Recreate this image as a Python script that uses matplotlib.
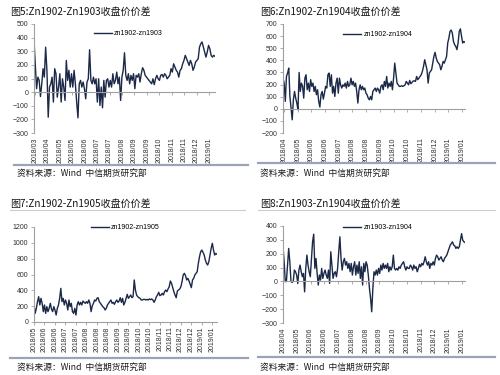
import matplotlib
matplotlib.use("Agg")
import matplotlib.pyplot as plt
import numpy as np
from matplotlib.lines import Line2D

plt.rcParams["font.family"] = ["Liberation Sans", "Noto Sans CJK SC", "DejaVu Sans"]

# ---- data ----
p1_title = "图5:Zn1902-Zn1903收盘价价差"
p1_label = "zn1902-zn1903"
p1_ticks = ["2018/03", "2018/04", "2018/05", "2018/05", "2018/06", "2018/07", "2018/07",
            "2018/08", "2018/09", "2018/09", "2018/10", "2018/11", "2018/11", "2018/12", "2019/01"]
p1_values = [380, 208, 25, 110, 86, -32, 61, 172, 110, 330, 160, -184, 37, 61, 110, -73,
             172, 135, -37, 37, 135, -73, 98, 37, -61, 233, 86, 160, 37, 135, 37, 160,
             61, -73, -189, 61, 86, 37, 74, 25, -49, 74, 98, 311, 86, 61, 110, 61, 98,
             -73, 98, -98, 37, -115, 86, -37, 86, 98, 37, 86, 37, 135, 61, 86, 147, 61,
             110, -61, 110, 160, 289, 123, 86, 135, 61, 123, 86, 135, 25, 123, 110, 135,
             74, 135, 179, 160, 123, 110, 98, 86, 74, 61, 98, 55, 98, 123, 98, 86, 123,
             130, 110, 135, 123, 98, 110, 123, 172, 147, 208, 184, 160, 147, 110, 160,
             172, 208, 233, 270, 245, 221, 196, 233, 208, 160, 184, 221, 233, 245, 330,
             355, 368, 330, 294, 257, 294, 343, 319, 270, 257, 270, 262]

p2_title = "图6:Zn1902-Zn1904收盘价价差"
p2_label = "zn1902-zn1904"
p2_ticks = ["2018/04", "2018/05", "2018/06", "2018/06", "2018/07", "2018/08", "2018/08",
            "2018/09", "2018/10", "2018/10", "2018/11", "2018/12", "2019/01", "2019/01"]
p2_values = [253, 212, 61, 267, 295, 336, 102, 6, -91, 74, 143, 88, 47, -8, 300, 143,
             212, 185, 88, 253, 281, 157, 212, 143, 240, 185, 212, 143, 185, 116, 157,
             61, 14, 116, 143, 80, 129, 185, 171, 281, 295, 185, 281, 129, 185, 102, 212,
             253, 129, 253, 198, 171, 198, 185, 212, 171, 226, 185, 198, 253, 198, 226,
             185, 212, 143, 47, 157, 198, 157, 185, 157, 171, 129, 116, 88, 74, 102, 74,
             143, 157, 171, 143, 171, 157, 129, 185, 198, 157, 226, 185, 267, 171, 212,
             185, 226, 157, 253, 377, 295, 212, 198, 185, 185, 190, 185, 190, 198, 226,
             212, 198, 234, 207, 218, 229, 231, 226, 267, 240, 253, 267, 281, 309, 350,
             405, 364, 322, 212, 295, 309, 322, 377, 432, 466, 419, 391, 377, 364, 322,
             350, 391, 377, 405, 432, 543, 584, 639, 650, 625, 556, 529, 515, 488, 543,
             639, 660, 598, 543, 556, 548]

p3_title = "图7:Zn1902-Zn1905收盘价价差"
p3_label = "zn1902-zn1905"
p3_ticks = ["2018/05", "2018/06", "2018/06", "2018/07", "2018/07", "2018/08", "2018/08",
            "2018/08", "2018/09", "2018/09", "2018/10", "2018/10", "2018/11", "2018/11",
            "2018/12", "2018/12", "2019/01", "2019/01"]
p3_values = [215, 109, 173, 257, 320, 215, 299, 236, 131, 215, 109, 194, 131, 173, 236,
             164, 131, 194, 152, 88, 173, 215, 299, 425, 257, 299, 215, 278, 236, 152,
             278, 194, 236, 131, 109, 173, 88, 215, 257, 215, 248, 215, 265, 248, 236,
             257, 236, 278, 236, 131, 206, 236, 278, 265, 299, 307, 257, 236, 215, 194,
             181, 152, 173, 215, 236, 257, 278, 236, 248, 223, 257, 278, 248, 265, 307,
             248, 299, 215, 248, 299, 349, 299, 320, 341, 307, 320, 531, 404, 341, 320,
             307, 299, 278, 278, 286, 286, 278, 286, 278, 291, 282, 291, 278, 248, 278,
             320, 341, 375, 333, 341, 362, 341, 383, 404, 383, 417, 446, 518, 488, 434,
             383, 341, 307, 392, 404, 417, 446, 509, 594, 615, 585, 531, 552, 518, 476,
             434, 531, 552, 594, 615, 636, 741, 825, 888, 909, 880, 846, 783, 741, 720,
             762, 846, 931, 994, 909, 846, 867, 855]

p4_title = "图8:Zn1903-Zn1904收盘价价差"
p4_label = "zn1903-zn1904"
p4_ticks = ["2018/04", "2018/05", "2018/06", "2018/06", "2018/07", "2018/08", "2018/08",
            "2018/09", "2018/10", "2018/10", "2018/11", "2018/12", "2019/01", "2019/01"]
p4_values = [250, 142, -2, 0, 118, 238, 142, 0, -7, 0, 82, 70, 46, -14, 82, 118, 70, 34,
             58, -75, 94, 190, 118, 70, 34, 166, 286, 341, 94, 166, 58, -26, 46, 10, 94,
             22, 58, 82, 46, 22, 82, -14, 214, 118, 22, 58, 70, 34, 94, 214, 322, 166, 82,
             142, 166, 118, 142, 94, 130, 70, 130, 46, 106, 142, 46, 118, 58, 142, 22,
             106, -26, 130, 70, 142, 118, 46, -50, -123, -219, -50, 70, 46, 82, 46, 94,
             58, 118, 82, 130, 94, 118, 94, 130, 70, 106, 82, 106, 190, 94, 82, 94, 82,
             106, 94, 118, 130, 142, 106, 82, 106, 94, 94, 118, 106, 82, 118, 94, 106, 70,
             94, 123, 106, 130, 118, 142, 178, 142, 118, 142, 94, 130, 118, 142, 118, 166,
             190, 178, 154, 166, 178, 154, 142, 166, 178, 190, 214, 238, 262, 274, 286,
             262, 257, 238, 250, 238, 250, 298, 345, 298, 286, 281]

LINE = "#1b2848"
AXIS = "#a0a0a0"
TXT = "#303030"
SEP = "#9aa4b8"

W, H = 500, 375
fig = plt.figure(figsize=(W / 100, H / 100), dpi=100)


def fx(px):
    return px / W


def fy(py):
    return 1 - py / H


def panel(box, values, ticks, tick_span, ylim, ystep, label, leg_xy):
    left, right, top, bottom = box
    ax = fig.add_axes([fx(left), fy(bottom), fx(right) - fx(left), fy(top) - fy(bottom)])
    x = np.arange(len(values))
    ax.plot(x, values, color=LINE, lw=1.0, label=label)
    n = len(values) - 1
    ax.set_xlim(0, n)
    ax.set_ylim(*ylim)
    ax.set_yticks(np.arange(ylim[0], ylim[1] + 1, ystep))
    for s in ["top", "right"]:
        ax.spines[s].set_visible(False)
    ax.spines["left"].set_color(AXIS)
    ax.spines["left"].set_linewidth(0.8)
    ax.spines["bottom"].set_position(("data", 0))
    ax.spines["bottom"].set_color(AXIS)
    ax.spines["bottom"].set_linewidth(0.8)
    ax.tick_params(axis="y", length=2, width=0.6, color=AXIS, labelsize=5,
                   labelcolor=TXT, pad=2)
    a, b = tick_span
    pos = (np.linspace(a, b, len(ticks)) - left) / (right - left) * n
    ax.set_xticks(pos)
    ax.tick_params(axis="x", length=2, width=0.6, color=AXIS, labelbottom=False)
    sec = ax.secondary_xaxis("bottom")
    sec.set_xticks(pos, ticks, rotation=90)
    sec.spines["bottom"].set_visible(False)
    sec.tick_params(length=0, labelsize=5, labelcolor=TXT, pad=3)
    ax.legend(loc="center", bbox_to_anchor=leg_xy, frameon=False, fontsize=5,
              handlelength=2.6, handletextpad=0.3, borderpad=0)
    ax.patch.set_alpha(0)
    return ax


panel((34, 215, 24, 133), p1_values, p1_ticks, (35, 209), (-300, 500), 100, p1_label, (0.52, 0.91))
panel((283, 465, 24, 133), p2_values, p2_ticks, (284, 462), (-200, 700), 100, p2_label, (0.52, 0.90))
panel((34, 217, 227, 322), p3_values, p3_ticks, (34, 212), (0, 1200), 200, p3_label, (0.50, 0.99))
panel((283, 465, 226, 323), p4_values, p4_ticks, (283, 462), (-300, 400), 100, p4_label, (0.52, 0.98))

# titles, separator lines and source notes
cjk = ["Noto Sans CJK SC", "DejaVu Sans"]
for (tx, ty), t in zip([(10, 12), (260, 12), (10, 204), (260, 204)],
                       [p1_title, p2_title, p3_title, p4_title]):
    fig.text(fx(tx), fy(ty), t, fontsize=7.2, family=cjk, weight="medium",
             color="#141414", ha="left", va="center")

for (x0, x1, y) in [(10, 245, 210), (258, 495, 210)]:
    fig.add_artist(Line2D([fx(x0), fx(x1)], [fy(y), fy(y)], color="#c8ccd4", lw=0.8))

for (x0, x1, y) in [(14, 248, 165), (258, 495, 163), (10, 248, 358), (258, 495, 357)]:
    fig.add_artist(Line2D([fx(x0), fx(x1)], [fy(y), fy(y)], color=SEP, lw=1.6))

for (tx, ty) in [(17, 173), (260, 173), (17, 367), (260, 367)]:
    fig.text(fx(tx), fy(ty), "资料来源：Wind  中信期货研究部", fontsize=6.3, family=cjk,
             color="#1a1a1a", ha="left", va="center")

fig.savefig("out.png", dpi=100)
